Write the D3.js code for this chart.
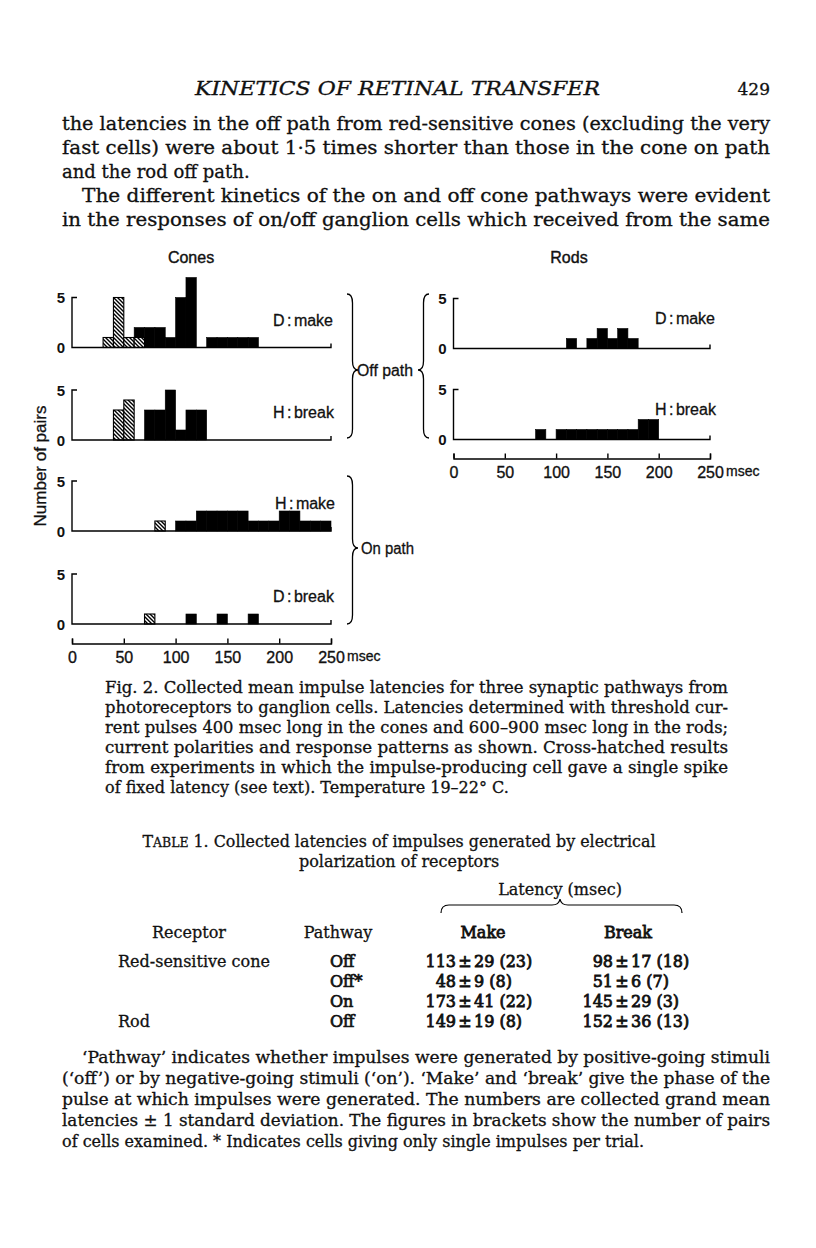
<!DOCTYPE html>
<html>
<head>
<meta charset="utf-8">
<script src="https://cdn.jsdelivr.net/npm/d3@7"></script>
<style>
body{margin:0;background:#fff;}
svg{display:block;}
</style>
</head>
<body>
<svg width="816" height="1248"></svg>
<script>
// histogram bins, 10 msec wide
const binStarts = [0,10,20,30,40,50,60,70,80,90,100,110,120,130,140,150,160,170,180,190,200,210,220,230,240];
const tickValues = [0,50,100,150,200,250];
const yTickValues = [0,5];

// cones (number of pairs per bin)
const conesDMakeSolid    = [0,0,0,0,0,0,1,2,2,1,5,7,0,1,1,1,1,1,0,0,0,0,0,0,0];
const conesDMakeHatched  = [0,0,0,1,5,1,1,0,0,0,0,0,0,0,0,0,0,0,0,0,0,0,0,0,0];
const conesHBreakSolid   = [0,0,0,0,0,0,0,3,3,5,1,3,3,0,0,0,0,0,0,0,0,0,0,0,0];
const conesHBreakHatched = [0,0,0,0,3,4,0,0,0,0,0,0,0,0,0,0,0,0,0,0,0,0,0,0,0];
const conesHMakeSolid    = [0,0,0,0,0,0,0,0,0,0,1,1,2,2,2,2,2,1,1,1,2,2,1,1,1];
const conesHMakeHatched  = [0,0,0,0,0,0,0,0,1,0,0,0,0,0,0,0,0,0,0,0,0,0,0,0,0];
const conesDBreakSolid   = [0,0,0,0,0,0,0,0,0,0,0,1,0,0,1,0,0,1,0,0,0,0,0,0,0];
const conesDBreakHatched = [0,0,0,0,0,0,0,1,0,0,0,0,0,0,0,0,0,0,0,0,0,0,0,0,0];
// rods
const rodsDMakeSolid     = [0,0,0,0,0,0,0,0,0,0,0,1,0,1,2,1,2,1,0,0,0,0,0,0,0];
const rodsHBreakSolid    = [0,0,0,0,0,0,0,0,1,0,1,1,1,1,1,1,1,1,2,2,0,0,0,0,0];
const noHatched          = [0,0,0,0,0,0,0,0,0,0,0,0,0,0,0,0,0,0,0,0,0,0,0,0,0];

const panelLabels = ["D : make","H : break","H : make","D : break","D : make","H : break"];

// page text
const headerText = "KINETICS OF RETINAL TRANSFER";
const pageNumber = "429";
const bodyLines = [
  "the latencies in the off path from red-sensitive cones (excluding the very",
  "fast cells) were about 1·5 times shorter than those in the cone on path",
  "and the rod off path.",
  "The different kinetics of the on and off cone pathways were evident",
  "in the responses of on/off ganglion cells which received from the same"
];
const captionLines = [
  "Fig. 2. Collected mean impulse latencies for three synaptic pathways from",
  "photoreceptors to ganglion cells. Latencies determined with threshold cur-",
  "rent pulses 400 msec long in the cones and 600–900 msec long in the rods;",
  "current polarities and response patterns as shown. Cross-hatched results",
  "from experiments in which the impulse-producing cell gave a single spike",
  "of fixed latency (see text). Temperature 19–22° C."
];
const tableHead = ["Receptor","Pathway","Make","Break"];
const tableReceptor = ["Red-sensitive cone","","","Rod"];
const tablePathway = ["Off","Off*","On","Off"];
const tableMake = [[113,29,23],[48,9,8],[173,41,22],[149,19,8]];
const tableBreak = [[98,17,18],[51,6,7],[145,29,3],[152,36,13]];
const footLines = [
  "‘Pathway’ indicates whether impulses were generated by positive-going stimuli",
  "(‘off’) or by negative-going stimuli (‘on’). ‘Make’ and ‘break’ give the phase of the",
  "pulse at which impulses were generated. The numbers are collected grand mean",
  "latencies ± 1 standard deviation. The figures in brackets show the number of pairs",
  "of cells examined. * Indicates cells giving only single impulses per trial."
];

const svg = d3.select("svg");
const serif = "'DejaVu Serif', serif";
const sans = "'Liberation Sans', Arial, sans-serif";

svg.append("rect").attr("width", 816).attr("height", 1248).attr("fill", "#fff");

// hatch pattern for single-spike cells
const defs = svg.append("defs");
const pat = defs.append("pattern").attr("id", "hatch")
    .attr("patternUnits", "userSpaceOnUse").attr("width", 4).attr("height", 4);
pat.append("rect").attr("width", 4).attr("height", 4).attr("fill", "#fff");
pat.append("path").attr("d", "M-1,-1L5,5M3,-1L5,1M-1,3L1,5")
    .attr("stroke", "#000").attr("stroke-width", 1.4);

// ---------- text helpers ----------
function line(x, y, str, o) {
    o = o || {};
    const t = svg.append("text")
        .attr("x", x).attr("y", y)
        .attr("font-family", o.family || serif)
        .attr("font-size", o.size || 16)
        .attr("font-style", o.style || null)
        .attr("font-weight", o.weight || null)
        .attr("text-anchor", o.anchor || "start")
        .attr("fill", "#111")
        .attr("stroke", "#111")
        .attr("stroke-width", o.heavy != null ? o.heavy : 0.3)
        .text(str);
    if (o.width) t.attr("textLength", o.width).attr("lengthAdjust", "spacingAndGlyphs");
    return t;
}

// ---------- page header and body ----------
line(195, 95, headerText, {size: 18, style: "italic", width: 405});
line(770, 95, pageNumber, {size: 17, anchor: "end"});

bodyLines.forEach((s, i) => {
    const indent = i === 3 ? 82 : 62;
    const full = i !== 2;
    line(indent, 130 + i * 24, s, {size: 18, width: full ? 770 - indent : null});
});

// ---------- chart ----------
const xCones = d3.scaleLinear().domain([0, 250]).range([72, 331]);
const xRods = d3.scaleLinear().domain([0, 250]).range([453.5, 710]);

const panels = [
    {x: xCones, base: 347.5, solid: conesDMakeSolid, hatched: conesDMakeHatched, label: panelLabels[0], lx: 273},
    {x: xCones, base: 440, solid: conesHBreakSolid, hatched: conesHBreakHatched, label: panelLabels[1], lx: 273},
    {x: xCones, base: 531, solid: conesHMakeSolid, hatched: conesHMakeHatched, label: panelLabels[2], lx: 275},
    {x: xCones, base: 624, solid: conesDBreakSolid, hatched: conesDBreakHatched, label: panelLabels[3], lx: 273},
    {x: xRods, base: 348.5, solid: rodsDMakeSolid, hatched: noHatched, label: panelLabels[4], lx: 655},
    {x: xRods, base: 439.5, solid: rodsHBreakSolid, hatched: noHatched, label: panelLabels[5], lx: 655}
];

const stack = d3.stack().keys(["hatched", "solid"]);

panels.forEach(p => {
    const x = p.x;
    const y = d3.scaleLinear().domain([0, 5]).range([p.base, p.base - 50]);
    const g = svg.append("g");

    const rows = binStarts.map((b, i) => ({bin: b, hatched: p.hatched[i], solid: p.solid[i]}));
    stack(rows).forEach(s => {
        g.selectAll(null)
            .data(s.filter(d => d[1] > d[0]))
            .join("rect")
            .attr("x", d => x(d.data.bin))
            .attr("width", d => x(d.data.bin + 10) - x(d.data.bin))
            .attr("y", d => y(d[1]))
            .attr("height", d => y(d[0]) - y(d[1]))
            .attr("fill", s.key === "solid" ? "#000" : "url(#hatch)")
            .attr("stroke", "#000")
            .attr("stroke-width", s.key === "solid" ? 0.6 : 1.1);
    });

    // axis frame: vertical 0-5 with a small tick, baseline with end tick
    g.append("path")
        .attr("d", `M${x(0) + 5},${y(5)}H${x(0)}V${y(0)}H${x(250)}V${y(0) - 4}`)
        .attr("fill", "none").attr("stroke", "#000").attr("stroke-width", 1.4);

    g.selectAll(".yl").data(yTickValues).join("text")
        .attr("x", x(0) - 11)
        .attr("y", d => y(d) + 5.5)
        .attr("text-anchor", "middle")
        .attr("font-family", sans).attr("font-size", 15).attr("font-weight", "bold")
        .attr("fill", "#111")
        .text(d => d);

    g.append("text")
        .attr("x", p.lx).attr("y", y(0) - 22 - (p.x === xRods ? 3 : 0))
        .attr("font-family", sans).attr("font-size", 16)
        .attr("fill", "#111").attr("stroke", "#111").attr("stroke-width", 0.3)
        .attr("word-spacing", -2)
        .text(p.label);
});

// bottom axes
function timeAxis(x, yPos) {
    const g = svg.append("g")
        .attr("transform", `translate(0,${yPos})`)
        .call(d3.axisBottom(x).tickValues(tickValues).tickSize(-5).tickSizeOuter(-5).tickPadding(8));
    g.selectAll("path,line").attr("stroke", "#000").attr("stroke-width", 1.4);
    g.selectAll("text").attr("font-family", sans).attr("font-size", 16).attr("fill", "#111")
        .attr("stroke", "#111").attr("stroke-width", 0.35);
    g.append("text")
        .attr("x", x(250) + 16).attr("y", 8).attr("dy", "0.71em")
        .attr("font-family", sans).attr("font-size", 14).attr("fill", "#111")
        .attr("stroke", "#111").attr("stroke-width", 0.3)
        .attr("text-anchor", "start")
        .text("msec");
}
timeAxis(xCones, 643.5);
timeAxis(xRods, 458.5);

// titles
line(191, 263, "Cones", {family: sans, size: 16, anchor: "middle", heavy: 0.4});
line(569, 263, "Rods", {family: sans, size: 16, anchor: "middle", heavy: 0.4});

svg.append("text")
    .attr("transform", "translate(46,466) rotate(-90)")
    .attr("text-anchor", "middle")
    .attr("font-family", sans).attr("font-size", 17)
    .attr("fill", "#111").attr("stroke", "#111").attr("stroke-width", 0.3)
    .text("Number of pairs");

// curly braces
function brace(x, y1, y2, ym, w) {
    const h = w / 2, q = 9;
    return `M${x},${y1}Q${x + h},${y1} ${x + h},${y1 + q}L${x + h},${ym - q}Q${x + h},${ym} ${x + w},${ym}` +
           `Q${x + h},${ym} ${x + h},${ym + q}L${x + h},${y2 - q}Q${x + h},${y2} ${x},${y2}`;
}
svg.append("path").attr("d", brace(347, 294, 438, 370, 11))
    .attr("fill", "none").attr("stroke", "#000").attr("stroke-width", 1.3);
svg.append("path").attr("d", brace(429, 294, 438, 370, -11))
    .attr("fill", "none").attr("stroke", "#000").attr("stroke-width", 1.3);
svg.append("path").attr("d", brace(347, 476, 624, 548, 11))
    .attr("fill", "none").attr("stroke", "#000").attr("stroke-width", 1.3);

line(357, 376, "Off path", {family: sans, size: 16, width: 56});
line(361, 554, "On path", {family: sans, size: 16, width: 53});

// ---------- caption ----------
captionLines.forEach((s, i) => {
    const last = i === captionLines.length - 1;
    line(105, 693 + i * 20, s, {size: 16, width: last ? null : 623});
});

// ---------- table ----------
const tt = svg.append("text").attr("x", 399).attr("y", 847).attr("text-anchor", "middle")
    .attr("font-family", serif).attr("font-size", 16).attr("fill", "#111")
    .attr("stroke", "#111").attr("stroke-width", 0.3)
    .attr("textLength", 513).attr("lengthAdjust", "spacingAndGlyphs");
tt.append("tspan").text("T");
tt.append("tspan").attr("font-size", 12.5).text("ABLE");
tt.append("tspan").text(" 1. Collected latencies of impulses generated by electrical");
line(399, 867, "polarization of receptors", {size: 16, anchor: "middle"});

line(560, 895, "Latency (msec)", {size: 16, anchor: "middle"});
svg.append("path")
    .attr("d", "M441,913Q441,905 449,905L552,905Q559,905 560,899Q561,905 568,905L674,905Q682,905 682,913")
    .attr("fill", "none").attr("stroke", "#000").attr("stroke-width", 1.2);

const headX = [189, 338, 483, 628];
tableHead.forEach((h, i) => line(headX[i], 938, h, {size: 16, anchor: "middle", heavy: i > 1 ? 0.8 : 0.3}));

const pmMake = 465, pmBreak = 622;
tableReceptor.forEach((r, i) => {
    const yy = 967 + i * 20;
    if (r) line(118, yy, r, {size: 16});
    line(330, yy, tablePathway[i], {size: 16, heavy: 0.7});
    [[tableMake[i], pmMake], [tableBreak[i], pmBreak]].forEach(([v, px]) => {
        line(px - 9, yy, String(v[0]), {size: 16, anchor: "end", heavy: 0.8});
        line(px, yy, "±", {size: 16, anchor: "middle", heavy: 0.8});
        line(px + 9, yy, `${v[1]} (${v[2]})`, {size: 16, heavy: 0.8});
    });
});

// ---------- footnote ----------
footLines.forEach((s, i) => {
    const indent = i === 0 ? 82 : 62;
    const last = i === footLines.length - 1;
    line(indent, 1063 + i * 21, s, {size: 16, width: last ? null : 770 - indent});
});
</script>
</body>
</html>
